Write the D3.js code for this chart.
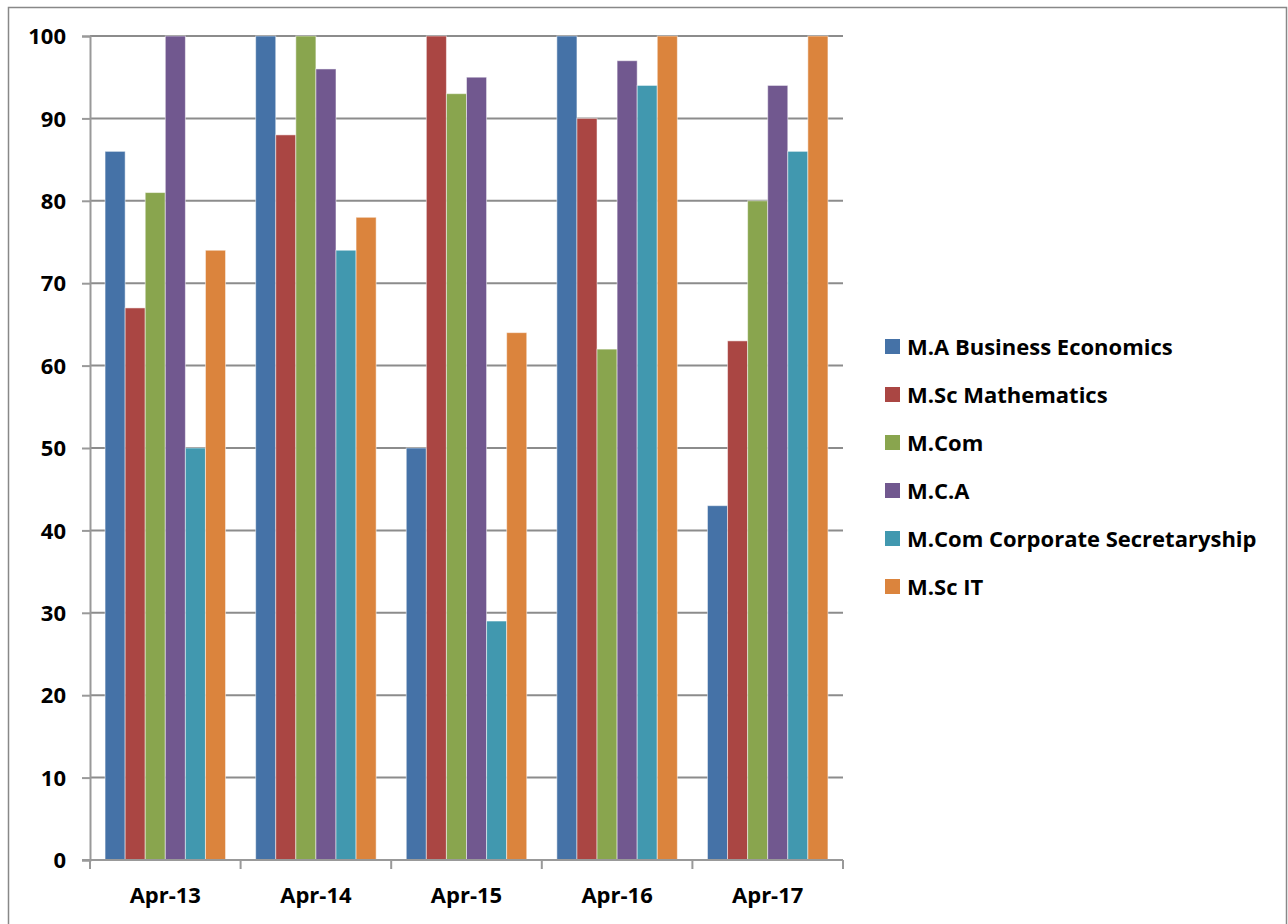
<!DOCTYPE html>
<html><head><meta charset="utf-8">
<script src="https://cdn.jsdelivr.net/npm/d3@7"></script>
<style>body{margin:0;background:#fff}svg text{font-family:"Open Sans",Lato,sans-serif;font-weight:bold;fill:#000}</style>
</head><body>
<svg id="c" width="1288" height="924"></svg>
<script>
const categories = ["Apr-13","Apr-14","Apr-15","Apr-16","Apr-17"];
const seriesNames = ["M.A Business Economics","M.Sc Mathematics","M.Com","M.C.A","M.Com Corporate Secretaryship","M.Sc IT"];
const seriesColors = ["#4572a7","#aa4643","#89a54e","#71588f","#4198af","#db843d"];
const maBusEco = [86,100,50,100,43];
const mscMath = [67,88,100,90,63];
const mcom = [81,100,93,62,80];
const mca = [100,96,95,97,94];
const mcomCS = [50,74,29,94,86];
const mscIT = [74,78,64,100,100];
const yTicks = [0,10,20,30,40,50,60,70,80,90,100];
const values = [maBusEco,mscMath,mcom,mca,mcomCS,mscIT];

const svg = d3.select("#c");
svg.append("rect").attr("x",8.5).attr("y",7.5).attr("width",1278).attr("height",930)
  .attr("fill","none").attr("stroke","#888").attr("stroke-width",1.5);

const L=90, R=843, T=36, B=860;
const x = d3.scaleBand().domain(categories).range([L,R]).paddingInner(0.2).paddingOuter(0.1);
const xg = d3.scaleBand().domain(d3.range(6)).range([0,x.bandwidth()]);
const y = d3.scaleLinear().domain([0,100]).range([B,T]);

// gridlines
svg.append("g").selectAll("line").data(yTicks.filter(d=>d>0)).join("line")
  .attr("x1",L).attr("x2",R).attr("y1",d=>y(d)).attr("y2",d=>y(d))
  .attr("stroke","#8c8c8c").attr("stroke-width",2);

// bars
const groups = svg.append("g").selectAll("g").data(categories).join("g")
  .attr("transform",c=>`translate(${x(c)},0)`);
groups.selectAll("rect").data((c,ci)=>values.map((s,si)=>({si,v:s[ci]}))).join("rect")
  .attr("x",d=>xg(d.si)).attr("width",xg.bandwidth())
  .attr("y",d=>y(d.v)).attr("height",d=>B-y(d.v))
  .attr("fill",d=>seriesColors[d.si]).attr("stroke","#ffffff").attr("stroke-opacity",0.5).attr("stroke-width",1);

// y axis
const ya = svg.append("g").attr("transform",`translate(${L},0)`)
  .call(d3.axisLeft(y).tickValues(yTicks).tickSize(8).tickPadding(16).tickFormat(d3.format("d")));
ya.select(".domain").attr("stroke","#999").attr("stroke-width",2);
ya.selectAll(".tick line").attr("stroke","#999").attr("stroke-width",2);
ya.selectAll("text").style("font-size","22px").attr("dy","0.35em");

// x axis
const xa = svg.append("g").attr("transform",`translate(0,${B})`);
xa.append("line").attr("x1",L-8).attr("x2",R).attr("y1",0).attr("y2",0).attr("stroke","#999").attr("stroke-width",2);
const step = (R-L)/categories.length;
xa.selectAll("line.t").data(d3.range(categories.length+1)).join("line").attr("class","t")
  .attr("x1",i=>L+i*step).attr("x2",i=>L+i*step).attr("y1",0).attr("y2",9)
  .attr("stroke","#999").attr("stroke-width",2);
xa.selectAll("text").data(categories).join("text")
  .attr("x",c=>x(c)+x.bandwidth()/2).attr("y",35).attr("dy","0.35em").attr("text-anchor","middle")
  .style("font-size","22px").text(c=>c);

// legend
const lg = svg.append("g").selectAll("g").data(seriesNames).join("g")
  .attr("transform",(d,i)=>`translate(885,${347+i*48})`);
lg.append("rect").attr("x",0).attr("y",-8).attr("width",15).attr("height",15).attr("fill",(d,i)=>seriesColors[i]);
lg.append("text").attr("x",22).attr("y",0).attr("dy","0.35em").style("font-size","22px").text(d=>d);
</script>
</body></html>
